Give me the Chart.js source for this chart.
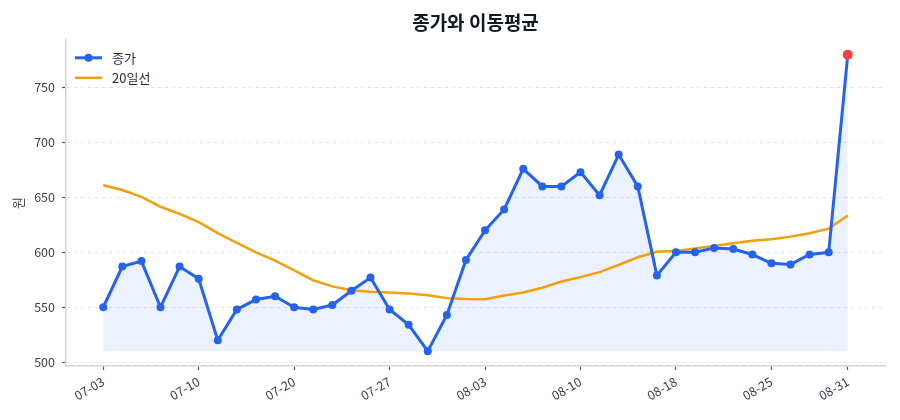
<!DOCTYPE html>
<html><head><meta charset="utf-8">
<script src="https://cdn.jsdelivr.net/npm/chart.js@4.4.1/dist/chart.umd.min.js"></script>
<style>html,body{margin:0;padding:0;background:#fff}#wrap{width:900px;height:420px}</style>
</head><body><div id="wrap"><canvas id="c" width="900" height="420"></canvas></div>
<script>
const dates = ['07-03','07-04','07-05','07-06','07-07','07-10','07-11','07-12','07-13','07-14',
  '07-20','07-21','07-24','07-25','07-26','07-27','07-28','07-31','08-01','08-02',
  '08-03','08-04','08-07','08-08','08-09','08-10','08-11','08-14','08-16','08-17',
  '08-18','08-21','08-22','08-23','08-24','08-25','08-28','08-29','08-30','08-31'];
const close = [550,587,592,550,587,576,520,548,557,560,
  550,548,552,565,577,548,534,510,543,593,
  620,639,676,660,660,673,652,689,660,579,
  600,600,604,603,598,590,589,598,600,780];
const ma20 = [661,656.7,650.5,641.5,635,627.5,617.5,608.5,600,592.5,
  583.5,574.5,569,565.5,564,563.4,562.5,561,558.3,557.4,
  557.3,560.7,563.4,567.7,573.4,577.4,582,588.6,595.5,600.5,
  601.3,603.6,605.8,608.2,610.6,612,614.3,617.4,621.6,633.5];
const yTickValues = [500,550,600,650,700,750];
const xTickIndex = [0,5,10,15,20,25,30,35,39];

const BLUE = '#2563eb', ORANGE = '#f59e0b', RED = '#ef4444';
const FONT = "'Noto Sans CJK KR', 'Noto Sans', sans-serif";
Chart.defaults.font.family = FONT;

const lastIdx = close.length - 1;
const yMin = Math.min(...close), yMax = Math.max(...close);
const yPad = (yMax - yMin) * 0.05;
const xPad = lastIdx * 0.05;

const legendPlugin = {
  id: 'inlineLegend',
  afterDraw(chart) {
    const ctx = chart.ctx, a = chart.chartArea;
    const x0 = a.left + 9;
    const rows = [a.top + 18, a.top + 38];
    ctx.save();
    ctx.lineCap = 'butt';
    ctx.strokeStyle = BLUE; ctx.lineWidth = 3;
    ctx.beginPath(); ctx.moveTo(x0, rows[0]); ctx.lineTo(x0 + 27, rows[0]); ctx.stroke();
    ctx.fillStyle = BLUE; ctx.beginPath(); ctx.arc(x0 + 13.5, rows[0], 4, 0, Math.PI * 2); ctx.fill();
    ctx.strokeStyle = ORANGE; ctx.lineWidth = 2.5;
    ctx.beginPath(); ctx.moveTo(x0, rows[1]); ctx.lineTo(x0 + 27, rows[1]); ctx.stroke();
    ctx.fillStyle = '#1f2937';
    ctx.font = '13px ' + FONT;
    ctx.textBaseline = 'middle';
    chart.data.datasets.forEach((ds, i) => ctx.fillText(ds.label, x0 + 37, rows[i]));
    ctx.restore();
  }
};

new Chart(document.getElementById('c'), {
  type: 'line',
  data: {
    datasets: [
      {
        label: '종가',
        data: close.map((v, i) => ({x: i, y: v})),
        borderColor: BLUE,
        borderWidth: 3,
        backgroundColor: 'rgba(37,99,235,0.09)',
        fill: {value: yMin},
        pointRadius: ctx => ctx.dataIndex === lastIdx ? 5 : 4,
        pointBackgroundColor: ctx => ctx.dataIndex === lastIdx ? RED : BLUE,
        pointBorderWidth: 0,
        tension: 0
      },
      {
        label: '20일선',
        data: ma20.map((v, i) => ({x: i, y: v})),
        borderColor: ORANGE,
        borderWidth: 2.5,
        pointRadius: 0,
        fill: false,
        tension: 0
      }
    ]
  },
  options: {
    responsive: false,
    animation: false,
    devicePixelRatio: 1,
    layout: {padding: {left: 0, right: 15, top: 0, bottom: 0}},
    plugins: {
      legend: {display: false},
      tooltip: {enabled: false},
      filler: {drawTime: 'beforeDatasetsDraw'},
      title: {
        display: true,
        text: '종가와 이동평균',
        fullSize: false,
        color: '#111827',
        font: {size: 19, weight: 'bold', family: FONT},
        padding: {top: 11, bottom: 6}
      }
    },
    scales: {
      x: {
        type: 'linear',
        min: -xPad,
        max: lastIdx + xPad,
        afterBuildTicks: s => { s.ticks = xTickIndex.map(v => ({value: v})); },
        afterFit: s => { s.height = 54; },
        ticks: {
          autoSkip: false,
          minRotation: 30, maxRotation: 30,
          padding: 4,
          color: '#374151',
          font: {size: 12.5},
          callback: v => dates[v]
        },
        grid: {drawOnChartArea: false, drawTicks: true, tickLength: 4, tickColor: '#4b5563', tickWidth: 1.2},
        border: {display: true, color: '#d1d5db', width: 1.5}
      },
      y: {
        type: 'linear',
        min: yMin - yPad,
        max: yMax + yPad,
        afterBuildTicks: s => { s.ticks = yTickValues.map(v => ({value: v})); },
        afterFit: s => { s.width = 66; },
        ticks: {padding: 7, color: '#374151', font: {size: 12.5}},
        title: {display: true, text: '원', color: '#374151', font: {size: 13}, padding: {top: 10, bottom: 0}},
        grid: {color: '#e5e7eb', lineWidth: 1, drawTicks: true, tickLength: 4, tickColor: '#4b5563', tickWidth: 1.2, tickBorderDash: []},
        border: {display: true, color: '#d1d5db', width: 1.5, dash: [4, 3]}
      }
    }
  },
  plugins: [legendPlugin]
});
</script>
</body></html>
